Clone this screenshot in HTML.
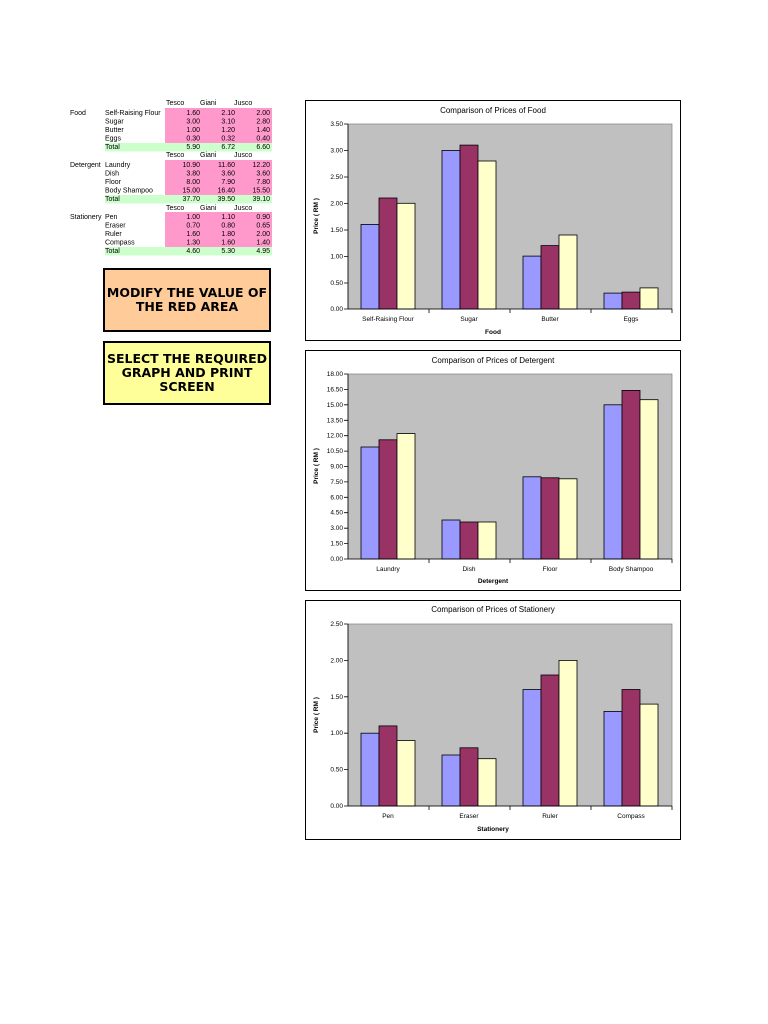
<!DOCTYPE html><html><head><meta charset="utf-8"><style>body{margin:0;background:#fff}svg{display:block;font-family:"Liberation Sans",sans-serif}</style></head><body>
<svg width="768" height="1024" viewBox="0 0 768 1024">
<rect width="768" height="1024" fill="#fff"/>
<!-- table -->
<g font-size="7" fill="#000">
<rect x="165" y="108" width="107" height="35" fill="#ff99cc"/><rect x="105" y="143" width="167" height="8.5" fill="#ccffcc"/>
<rect x="165" y="160" width="107" height="35" fill="#ff99cc"/><rect x="105" y="195" width="167" height="8.5" fill="#ccffcc"/>
<rect x="165" y="212" width="107" height="35" fill="#ff99cc"/><rect x="105" y="247" width="167" height="8.5" fill="#ccffcc"/>
<g><text x="166" y="105">Tesco</text><text x="200" y="105">Giani</text><text x="234" y="105">Jusco</text>
<text x="166" y="157">Tesco</text><text x="200" y="157">Giani</text><text x="234" y="157">Jusco</text>
<text x="166" y="210">Tesco</text><text x="200" y="210">Giani</text><text x="234" y="210">Jusco</text></g>
<text x="70" y="115">Food</text><text x="70" y="167">Detergent</text><text x="70" y="219">Stationery</text>
<text x="105" y="115">Self-Raising Flour</text><text x="105" y="123.5">Sugar</text><text x="105" y="132">Butter</text><text x="105" y="140.5">Eggs</text><text x="105" y="149">Total</text>
<text x="105" y="167">Laundry</text><text x="105" y="175.5">Dish</text><text x="105" y="184">Floor</text><text x="105" y="192.5">Body Shampoo</text><text x="105" y="201">Total</text>
<text x="105" y="219">Pen</text><text x="105" y="227.5">Eraser</text><text x="105" y="236">Ruler</text><text x="105" y="244.5">Compass</text><text x="105" y="253">Total</text>
<g text-anchor="end">
<text x="200" y="115">1.60</text><text x="235" y="115">2.10</text><text x="270" y="115">2.00</text>
<text x="200" y="123.5">3.00</text><text x="235" y="123.5">3.10</text><text x="270" y="123.5">2.80</text>
<text x="200" y="132">1.00</text><text x="235" y="132">1.20</text><text x="270" y="132">1.40</text>
<text x="200" y="140.5">0.30</text><text x="235" y="140.5">0.32</text><text x="270" y="140.5">0.40</text>
<text x="200" y="149">5.90</text><text x="235" y="149">6.72</text><text x="270" y="149">6.60</text>
<text x="200" y="167">10.90</text><text x="235" y="167">11.60</text><text x="270" y="167">12.20</text>
<text x="200" y="175.5">3.80</text><text x="235" y="175.5">3.60</text><text x="270" y="175.5">3.60</text>
<text x="200" y="184">8.00</text><text x="235" y="184">7.90</text><text x="270" y="184">7.80</text>
<text x="200" y="192.5">15.00</text><text x="235" y="192.5">16.40</text><text x="270" y="192.5">15.50</text>
<text x="200" y="201">37.70</text><text x="235" y="201">39.50</text><text x="270" y="201">39.10</text>
<text x="200" y="219">1.00</text><text x="235" y="219">1.10</text><text x="270" y="219">0.90</text>
<text x="200" y="227.5">0.70</text><text x="235" y="227.5">0.80</text><text x="270" y="227.5">0.65</text>
<text x="200" y="236">1.60</text><text x="235" y="236">1.80</text><text x="270" y="236">2.00</text>
<text x="200" y="244.5">1.30</text><text x="235" y="244.5">1.60</text><text x="270" y="244.5">1.40</text>
<text x="200" y="253">4.60</text><text x="235" y="253">5.30</text><text x="270" y="253">4.95</text>
</g></g>
<!-- boxes -->
<rect x="104" y="269" width="166" height="62" fill="#ffcc99" stroke="#000" stroke-width="2"/>
<g font-size="12.5" font-weight="bold" text-anchor="middle" font-family="DejaVu Sans, sans-serif"><text x="187" y="297">MODIFY THE VALUE OF</text><text x="187" y="311">THE RED AREA</text></g>
<rect x="104" y="342" width="166" height="62" fill="#ffff99" stroke="#000" stroke-width="2"/>
<g font-size="12.5" font-weight="bold" text-anchor="middle" font-family="DejaVu Sans, sans-serif"><text x="187" y="363">SELECT THE REQUIRED</text><text x="187" y="377">GRAPH AND PRINT</text><text x="187" y="391">SCREEN</text></g>

<!-- chart 1 -->
<rect x="305.5" y="100.5" width="375" height="240" fill="#fff" stroke="#000"/>
<text x="493" y="113" font-size="8" text-anchor="middle">Comparison of Prices of Food</text>
<rect x="348" y="124" width="324" height="185" fill="#c0c0c0" stroke="#808080" stroke-width="0.7"/>
<g stroke="#000" stroke-width="0.8">
<rect x="361" y="224.4" width="18" height="84.6" fill="#9999ff"/><rect x="379" y="198" width="18" height="111" fill="#993366"/><rect x="397" y="203.3" width="18" height="105.7" fill="#ffffcc"/>
<rect x="442" y="150.4" width="18" height="158.6" fill="#9999ff"/><rect x="460" y="145.1" width="18" height="163.9" fill="#993366"/><rect x="478" y="161" width="18" height="148" fill="#ffffcc"/>
<rect x="523" y="256.1" width="18" height="52.9" fill="#9999ff"/><rect x="541" y="245.6" width="18" height="63.4" fill="#993366"/><rect x="559" y="235" width="18" height="74" fill="#ffffcc"/>
<rect x="604" y="293.1" width="18" height="15.9" fill="#9999ff"/><rect x="622" y="292.1" width="18" height="16.9" fill="#993366"/><rect x="640" y="287.9" width="18" height="21.1" fill="#ffffcc"/>
<path d="M348 124V309H672M344 124H348M344 150.4H348M344 177H348M344 203.6H348M344 230H348M344 256.4H348M344 283H348M344 309H348M429 309V313M510 309V313M591 309V313M672 309V313" fill="none"/>
</g>
<g font-size="6.5" text-anchor="end"><text x="343" y="126">3.50</text><text x="343" y="152.5">3.00</text><text x="343" y="179">2.50</text><text x="343" y="205.5">2.00</text><text x="343" y="232">1.50</text><text x="343" y="258.5">1.00</text><text x="343" y="285">0.50</text><text x="343" y="311">0.00</text></g>
<g font-size="6.5" text-anchor="middle"><text x="388" y="321">Self-Raising Flour</text><text x="469" y="321">Sugar</text><text x="550" y="321">Butter</text><text x="631" y="321">Eggs</text><text x="493" y="334" font-weight="bold">Food</text></g>
<text transform="translate(318,216) rotate(-90)" font-size="6.5" font-weight="bold" text-anchor="middle">Price ( RM )</text>

<!-- chart 2 -->
<rect x="305.5" y="350.5" width="375" height="240" fill="#fff" stroke="#000"/>
<text x="493" y="363" font-size="8" text-anchor="middle">Comparison of Prices of Detergent</text>
<rect x="348" y="374" width="324" height="185" fill="#c0c0c0" stroke="#808080" stroke-width="0.7"/>
<g stroke="#000" stroke-width="0.8">
<rect x="361" y="447" width="18" height="112" fill="#9999ff"/><rect x="379" y="439.8" width="18" height="119.2" fill="#993366"/><rect x="397" y="433.6" width="18" height="125.4" fill="#ffffcc"/>
<rect x="442" y="520" width="18" height="39" fill="#9999ff"/><rect x="460" y="522" width="18" height="37" fill="#993366"/><rect x="478" y="522" width="18" height="37" fill="#ffffcc"/>
<rect x="523" y="476.8" width="18" height="82.2" fill="#9999ff"/><rect x="541" y="477.8" width="18" height="81.2" fill="#993366"/><rect x="559" y="478.8" width="18" height="80.2" fill="#ffffcc"/>
<rect x="604" y="404.8" width="18" height="154.2" fill="#9999ff"/><rect x="622" y="390.4" width="18" height="168.6" fill="#993366"/><rect x="640" y="399.7" width="18" height="159.3" fill="#ffffcc"/>
<path d="M348 374V559H672M344 374H348M344 389.4H348M344 404.8H348M344 420.3H348M344 435.7H348M344 451.1H348M344 466.5H348M344 481.9H348M344 497.3H348M344 512.7H348M344 528.2H348M344 543.6H348M344 559H348M429 559V563M510 559V563M591 559V563M672 559V563" fill="none"/>
</g>
<g font-size="6.5" text-anchor="end"><text x="343" y="376">18.00</text><text x="343" y="391.4">16.50</text><text x="343" y="406.8">15.00</text><text x="343" y="422.3">13.50</text><text x="343" y="437.7">12.00</text><text x="343" y="453.1">10.50</text><text x="343" y="468.5">9.00</text><text x="343" y="483.9">7.50</text><text x="343" y="499.3">6.00</text><text x="343" y="514.7">4.50</text><text x="343" y="530.2">3.00</text><text x="343" y="545.6">1.50</text><text x="343" y="561">0.00</text></g>
<g font-size="6.5" text-anchor="middle"><text x="388" y="571">Laundry</text><text x="469" y="571">Dish</text><text x="550" y="571">Floor</text><text x="631" y="571">Body Shampoo</text><text x="493" y="583" font-weight="bold">Detergent</text></g>
<text transform="translate(318,466) rotate(-90)" font-size="6.5" font-weight="bold" text-anchor="middle">Price ( RM )</text>

<!-- chart 3 -->
<rect x="305.5" y="600.5" width="375" height="239" fill="#fff" stroke="#000"/>
<text x="493" y="612" font-size="8" text-anchor="middle">Comparison of Prices of Stationery</text>
<rect x="348" y="624" width="324" height="182" fill="#c0c0c0" stroke="#808080" stroke-width="0.7"/>
<g stroke="#000" stroke-width="0.8">
<rect x="361" y="733.2" width="18" height="72.8" fill="#9999ff"/><rect x="379" y="725.9" width="18" height="80.1" fill="#993366"/><rect x="397" y="740.5" width="18" height="65.5" fill="#ffffcc"/>
<rect x="442" y="755" width="18" height="51" fill="#9999ff"/><rect x="460" y="747.8" width="18" height="58.2" fill="#993366"/><rect x="478" y="758.7" width="18" height="47.3" fill="#ffffcc"/>
<rect x="523" y="689.5" width="18" height="116.5" fill="#9999ff"/><rect x="541" y="675" width="18" height="131" fill="#993366"/><rect x="559" y="660.4" width="18" height="145.6" fill="#ffffcc"/>
<rect x="604" y="711.4" width="18" height="94.6" fill="#9999ff"/><rect x="622" y="689.5" width="18" height="116.5" fill="#993366"/><rect x="640" y="704.1" width="18" height="101.9" fill="#ffffcc"/>
<path d="M348 624V806H672M344 624H348M344 660.4H348M344 696.8H348M344 733.2H348M344 769.6H348M344 806H348M429 806V810M510 806V810M591 806V810M672 806V810" fill="none"/>
</g>
<g font-size="6.5" text-anchor="end"><text x="343" y="626">2.50</text><text x="343" y="662.4">2.00</text><text x="343" y="698.8">1.50</text><text x="343" y="735.2">1.00</text><text x="343" y="771.6">0.50</text><text x="343" y="808">0.00</text></g>
<g font-size="6.5" text-anchor="middle"><text x="388" y="818">Pen</text><text x="469" y="818">Eraser</text><text x="550" y="818">Ruler</text><text x="631" y="818">Compass</text><text x="493" y="831" font-weight="bold">Stationery</text></g>
<text transform="translate(318,715) rotate(-90)" font-size="6.5" font-weight="bold" text-anchor="middle">Price ( RM )</text>
</svg>
</body></html>
